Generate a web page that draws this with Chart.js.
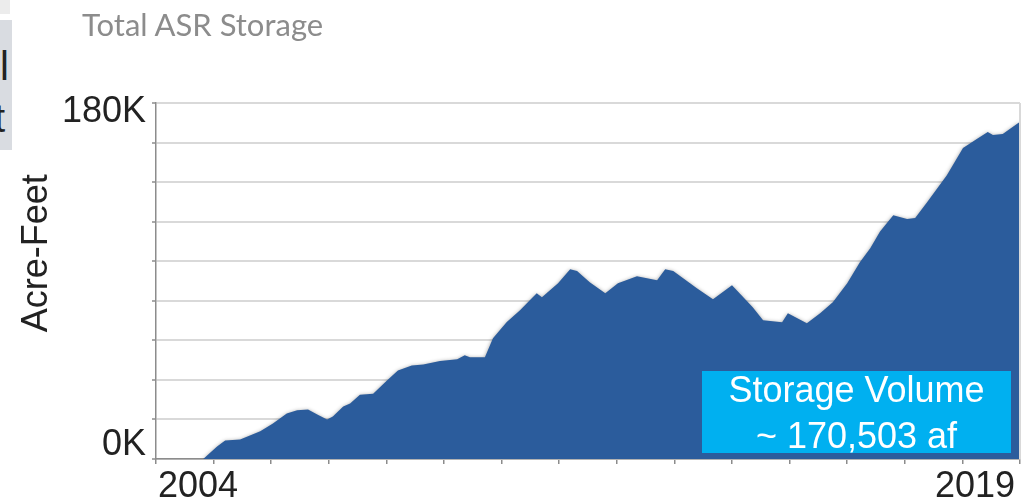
<!DOCTYPE html>
<html>
<head>
<meta charset="utf-8">
<script src="https://cdn.jsdelivr.net/npm/chart.js@4/dist/chart.umd.min.js"></script>
<style>
  body { margin: 0; background: #fff; }
  #wrap { position: relative; width: 1027px; height: 500px; overflow: hidden; }
  #title {
    position: absolute; left: 82px; top: 5px;
    font: 31px Lato, "Open Sans", sans-serif; color: #8c8c8c; white-space: nowrap;
  }
  .edge { position: absolute; left: 0; overflow: hidden; }
  .edge span {
    position: absolute; font: 40px "Liberation Sans", Arial, sans-serif; color: #222;
  }
  #note {
    position: absolute; left: 702px; top: 371px; width: 309px; height: 82px;
    background: #00b0f0; overflow: visible;
  }
  #note div {
    position: absolute; left: 0; top: -4px; width: 100%; text-align: center;
    font: 36px "Liberation Sans", Arial, sans-serif; line-height: 46px; color: #fff;
  }
</style>
</head>
<body>
<div id="wrap">
  <canvas id="chart" width="1027" height="500"></canvas>
  <div id="title">Total ASR Storage</div>
  <div class="edge" style="top:0;width:10px;height:14px;background:#ececec"></div>
  <div class="edge" style="top:20px;width:12px;height:130px;background:#d9dce1">
    <span style="left:0;top:24px">l</span>
    <span style="left:-6px;top:76px">t</span>
  </div>
  <div id="note"><div>Storage Volume<br>~ 170,503 af</div></div>
</div>
<script>
// storage in acre-feet, read at fractional years
var years = [
  2004.00, 2004.68, 2004.82, 2005.06, 2005.20, 2005.46, 2005.63, 2005.81,
  2006.03, 2006.27, 2006.45, 2006.64, 2006.80, 2006.97, 2007.07, 2007.25,
  2007.37, 2007.54, 2007.77, 2008.01, 2008.20, 2008.44, 2008.64, 2008.93,
  2009.23, 2009.36, 2009.45, 2009.71, 2009.85, 2010.09, 2010.32, 2010.49,
  2010.61, 2010.70, 2010.84, 2010.98, 2011.19, 2011.31, 2011.53, 2011.80,
  2012.02, 2012.35, 2012.70, 2012.84, 2012.98, 2013.39, 2013.67, 2014.00,
  2014.36, 2014.54, 2014.87, 2014.97, 2015.30, 2015.53, 2015.75, 2016.00,
  2016.22, 2016.40, 2016.57, 2016.80, 2017.04, 2017.18, 2017.39, 2017.73,
  2018.01, 2018.25, 2018.44, 2018.53, 2018.70, 2019.00
];
var storage = [
  0, 0, 0, 6300, 9400, 9900, 11900, 14000,
  18000, 23000, 24600, 25000, 22500, 20000, 21500, 26600,
  28000, 32500, 33000, 39700, 44800, 47300, 47800, 49500,
  50400, 52400, 51400, 51500, 61000, 69300, 75200, 80300,
  83800, 81800, 85300, 88900, 95900, 95000, 89400, 83800,
  88900, 92400, 90400, 95900, 95000, 86300, 80800, 87800,
  76700, 70100, 69100, 73700, 68600, 73700, 79200, 88900,
  99500, 106600, 115000, 123300, 121300, 121800, 129900, 143500,
  157200, 161800, 165300, 163800, 164300, 170503
];
var yTickLabels = ['0K', '180K'];
var xTickLabels = ['2004', '2019'];

var points = years.map(function(y, i) { return {x: y, y: storage[i]}; });

var axisFont = '36px "Liberation Sans", Arial, sans-serif';

// soft dark edge along the top of the filled area
var shadowPlugin = {
  id: 'areaShadow',
  beforeDatasetsDraw: function(chart) {
    var ctx = chart.ctx;
    ctx.save();
    ctx.shadowColor = 'rgba(0,0,0,0.45)';
    ctx.shadowBlur = 4;
    ctx.shadowOffsetY = 1;
  },
  afterDatasetsDraw: function(chart) {
    chart.ctx.restore();
  }
};

var labelPlugin = {
  id: 'axisText',
  afterDraw: function(chart) {
    var ctx = chart.ctx, a = chart.chartArea;
    var ys = chart.scales.y;
    ctx.save();
    // right edge of the plot
    ctx.strokeStyle = '#d9d9d9';
    ctx.lineWidth = 2;
    ctx.beginPath();
    ctx.moveTo(a.right, a.top);
    ctx.lineTo(a.right, a.bottom);
    ctx.stroke();

    ctx.fillStyle = '#222';
    ctx.font = axisFont;
    ctx.textBaseline = 'alphabetic';
    ctx.textAlign = 'right';
    ctx.fillText(yTickLabels[1], a.left - 10, ys.getPixelForValue(180000) + 19);
    ctx.fillText(yTickLabels[0], a.left - 10, ys.getPixelForValue(0) - 4);

    ctx.textAlign = 'left';
    ctx.fillText(xTickLabels[0], a.left + 2, 497);
    ctx.textAlign = 'right';
    ctx.fillText(xTickLabels[1], a.right - 5, 497);

    // axis title sits a little above the middle of the plot
    ctx.translate(47, ys.getPixelForValue(104000));
    ctx.rotate(-Math.PI / 2);
    ctx.textAlign = 'center';
    ctx.fillText('Acre-Feet', 0, 0);
    ctx.restore();
  }
};

new Chart(document.getElementById('chart'), {
  type: 'line',
  data: {
    datasets: [{
      data: points,
      fill: 'origin',
      backgroundColor: '#2b5c9c',
      borderWidth: 0,
      pointRadius: 0,
      tension: 0
    }]
  },
  options: {
    responsive: false,
    animation: false,
    layout: { padding: { top: 103, right: 7, left: 0, bottom: 0 } },
    plugins: { legend: { display: false }, tooltip: { enabled: false } },
    scales: {
      x: {
        type: 'linear', min: 2004, max: 2019,
        afterFit: function(s) { s.height = 41; },
        ticks: { stepSize: 1, callback: function() { return ''; } },
        grid: { drawOnChartArea: false, tickLength: 5, color: '#8c8c8c', lineWidth: 1.5 },
        border: { color: '#8c8c8c', width: 1.5 }
      },
      y: {
        min: 0, max: 180000,
        afterFit: function(s) { s.width = 156; },
        ticks: { stepSize: 20000, callback: function() { return ''; } },
        grid: { color: '#d9d9d9', lineWidth: 2, tickColor: '#8c8c8c', tickLength: 4, tickWidth: 1.5 },
        border: { color: '#8c8c8c', width: 1.5 }
      }
    }
  },
  plugins: [shadowPlugin, labelPlugin]
});
</script>
</body>
</html>
